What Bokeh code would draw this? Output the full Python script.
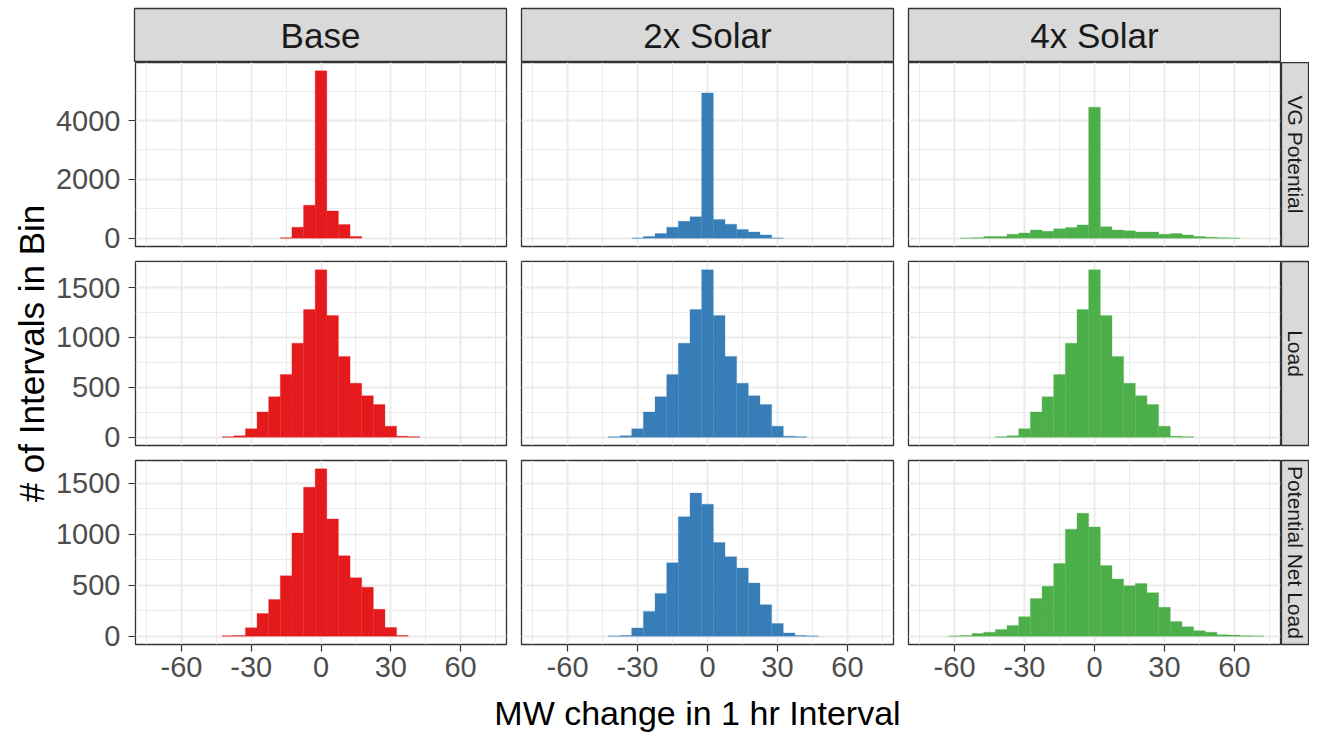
import math
from bokeh.plotting import figure
from bokeh.layouts import row, column
from bokeh.models import Range1d, FixedTicker, Grid, Spacer, ColumnDataSource
from bokeh.core.properties import value
from bokeh.embed import file_html
from bokeh.resources import INLINE

# ---------------- data ----------------
scenarios = ["Base", "2x Solar", "4x Solar"]
measures = ["VG Potential", "Load", "Potential Net Load"]
colors = ["#E41A1C", "#377EB8", "#4DAF4A"]

bin_centers = [-70, -65, -60, -55, -50, -45, -40, -35, -30, -25, -20, -15, -10, -5, 0,
               5, 10, 15, 20, 25, 30, 35, 40, 45, 50, 55, 60, 65, 70]
bin_width = 5

vg_base = [0, 0, 0, 0, 0, 0, 0, 0, 0, 0, 0, 10, 374, 1122, 5690, 924, 462, 55, 0, 0, 0, 0, 0, 0, 0, 0, 0, 0, 0]
vg_2x = [0, 0, 0, 0, 0, 0, 0, 0, 5, 55, 154, 374, 572, 726, 4939, 638, 473, 297, 209, 110, 5, 0, 0, 0, 0, 0, 0, 0, 0]
vg_4x = [0, 0, 0, 3, 10, 55, 55, 132, 176, 275, 231, 319, 363, 451, 4455, 385, 275, 253, 209, 209, 132, 154, 110, 55, 33, 11, 3, 0, 0]

load_counts = [0, 0, 0, 0, 0, 0, 3, 13, 84, 253, 405, 629, 943, 1280, 1678, 1221, 810, 541, 415, 327, 110, 10, 3, 0, 0, 0, 0, 0, 0]

pnl_base = [0, 0, 0, 0, 0, 0, 3, 6, 83, 223, 360, 592, 1013, 1462, 1643, 1150, 790, 573, 481, 264, 86, 6, 0, 0, 0, 0, 0, 0, 0]
pnl_2x = [0, 0, 0, 0, 0, 0, 2, 6, 80, 242, 420, 720, 1172, 1405, 1296, 920, 780, 669, 522, 309, 124, 32, 6, 2, 0, 0, 0, 0, 0]
pnl_4x = [0, 0, 2, 6, 25, 38, 64, 105, 191, 369, 490, 713, 1051, 1207, 1073, 694, 561, 494, 516, 427, 283, 143, 92, 54, 38, 13, 10, 3, 2]

counts = [
    [vg_base, vg_2x, vg_4x],
    [load_counts, load_counts, load_counts],
    [pnl_base, pnl_2x, pnl_4x],
]

x_limits = (-79.75, 79.75)
x_major = [-60, -30, 0, 30, 60]
x_minor = [-75, -45, -15, 15, 45, 75]
y_major = [[0, 2000, 4000], [0, 500, 1000, 1500], [0, 500, 1000, 1500]]
y_minor = [[1000, 3000, 5000], [250, 750, 1250, 1750], [250, 750, 1250, 1750]]

x_title = "MW change in 1 hr Interval"
y_title = "# of Intervals in Bin"

# ---------------- layout constants ----------------
FONT = value("Liberation Sans")
W_YT = 52
col_w = [461, 387, 381]
col_lb = [82, 8, 8]
col_rb = [7, 7, 1]
W_RS = 28
H_TS = 62
TS_TOP = 8
row_h = [192, 199, 238]
row_tb = [0, 7, 7]
row_bb = [8, 8, 47]
H_XT = 42
XT_CENTER = 697
TOTAL_W = W_YT + sum(col_w) + W_RS

GRID_COL = "#EBEBEB"
BORDER_COL = "#333333"
STRIP_FILL = "#D9D9D9"
STRIP_TEXT = "#1A1A1A"


def base_fig(w, h, xr, yr, lb=0, rb=0, tb=0, bb=0, xloc=None, yloc=None, **kw):
    p = figure(width=w, height=h, x_range=xr, y_range=yr,
               x_axis_location=xloc, y_axis_location=yloc,
               output_backend="svg", toolbar_location=None,
               min_border_left=lb, min_border_right=rb,
               min_border_top=tb, min_border_bottom=bb,
               border_fill_color="white", **kw)
    p.grid.visible = False
    return p


def style_axis(ax, standoff, ticks):
    ax.axis_line_color = None
    ax.major_tick_line_color = BORDER_COL
    ax.major_tick_line_width = 1.2
    ax.major_tick_out = 7
    ax.major_tick_in = 0
    ax.minor_tick_line_color = None
    ax.minor_tick_out = 0
    ax.major_label_text_color = "#4D4D4D"
    ax.major_label_text_font_size = "29px"
    ax.major_label_text_font = "Liberation Sans"
    ax.major_label_standoff = standoff
    ax.major_label_overrides = {t: str(t) for t in ticks}


# shared y scale per row
row_max = [max(max(c) for c in counts[r]) for r in range(3)]


def make_panel(r, c):
    ymax = row_max[r]
    p = base_fig(col_w[c], row_h[r], Range1d(*x_limits), Range1d(-0.05 * ymax, 1.05 * ymax),
                 lb=col_lb[c], rb=col_rb[c], tb=row_tb[r], bb=row_bb[r],
                 xloc="below" if r == 2 else None, yloc="left" if c == 0 else None,
                 background_fill_color="white",
                 outline_line_color=BORDER_COL, outline_line_width=1.3)
    p.add_layout(Grid(dimension=0, ticker=FixedTicker(ticks=x_major, minor_ticks=x_minor),
                      grid_line_color=GRID_COL, grid_line_width=2,
                      minor_grid_line_color=GRID_COL, minor_grid_line_width=1))
    p.add_layout(Grid(dimension=1, ticker=FixedTicker(ticks=y_major[r], minor_ticks=y_minor[r]),
                      grid_line_color=GRID_COL, grid_line_width=2,
                      minor_grid_line_color=GRID_COL, minor_grid_line_width=1))
    if r == 2:
        p.xaxis.ticker = FixedTicker(ticks=x_major)
        style_axis(p.xaxis[0], 5, x_major)
    if c == 0:
        p.yaxis.ticker = FixedTicker(ticks=y_major[r])
        style_axis(p.yaxis[0], 8, y_major[r])
    xs = [b for b, n in zip(bin_centers, counts[r][c]) if n > 0]
    ns = [n for n in counts[r][c] if n > 0]
    src = ColumnDataSource(dict(x=xs, top=ns))
    p.vbar(x="x", top="top", bottom=0, width=bin_width, source=src,
           fill_color=colors[c], line_color=colors[c], line_width=0.5, line_alpha=0.6)
    return p


def top_strip(c):
    p = base_fig(col_w[c], H_TS, Range1d(0, 1), Range1d(0, 1),
                 lb=col_lb[c], rb=col_rb[c], tb=TS_TOP, bb=0,
                 background_fill_color=STRIP_FILL,
                 outline_line_color=BORDER_COL, outline_line_width=1.3)
    p.text(x=[0.5], y=[0.5], text=[scenarios[c]], text_align="center", text_baseline="middle",
           text_font=FONT, text_font_size="35px", text_color=STRIP_TEXT)
    return p


def right_strip(r):
    p = base_fig(W_RS, row_h[r], Range1d(0, 1), Range1d(0, 1),
                 lb=0, rb=0, tb=row_tb[r], bb=row_bb[r],
                 background_fill_color=STRIP_FILL,
                 outline_line_color=BORDER_COL, outline_line_width=1.3)
    p.text(x=[0.5], y=[0.5], text=[measures[r]], angle=-math.pi / 2,
           text_align="center", text_baseline="middle",
           text_font=FONT, text_font_size="21px", text_color=STRIP_TEXT)
    return p


# y title cell
H_PANELS = sum(row_h)
frames_top = row_tb[0]
frames_bottom = H_PANELS - row_bb[2]
yt_center_from_top = (frames_top + frames_bottom) / 2
yt = base_fig(W_YT, H_PANELS, Range1d(0, W_YT), Range1d(0, H_PANELS),
              background_fill_color="white", outline_line_color=None)
yt.text(x=[31], y=[H_PANELS - yt_center_from_top], text=[y_title], angle=math.pi / 2,
        text_align="center", text_baseline="middle",
        text_font=FONT, text_font_size="35px", text_color="black")

# x title cell
xt = base_fig(TOTAL_W, H_XT, Range1d(0, TOTAL_W), Range1d(0, H_XT),
              background_fill_color="white", outline_line_color=None)
xt.text(x=[XT_CENTER], y=[H_XT / 2], text=[x_title],
        text_align="center", text_baseline="middle",
        text_font=FONT, text_font_size="34px", text_color="black")

strip_row = row(Spacer(width=W_YT, height=H_TS), *[top_strip(c) for c in range(3)])
panel_rows = [row(*[make_panel(r, c) for c in range(3)], right_strip(r)) for r in range(3)]
middle = row(yt, column(*panel_rows))
layout = column(strip_row, middle, xt)

open("out.html", "w").write(file_html(layout, INLINE))
